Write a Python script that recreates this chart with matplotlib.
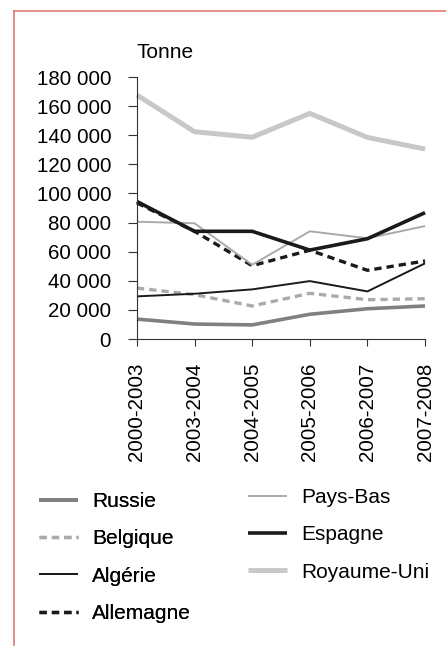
import numpy as np
import matplotlib.pyplot as plt
from matplotlib.lines import Line2D
from matplotlib.ticker import FuncFormatter

plt.rcParams['font.family'] = ['Liberation Sans', 'DejaVu Sans']

# Periods and tonnages
periods = ["2000-2003", "2003-2004", "2004-2005", "2005-2006", "2006-2007", "2007-2008"]
russie = [13700, 10300, 9700, 17000, 20800, 22700]
belgique = [35000, 30500, 22700, 31400, 27000, 27700]
algerie = [29300, 31100, 34100, 39800, 32700, 52000]
allemagne = [93500, 74000, 50400, 61000, 47200, 53600]
pays_bas = [80600, 79500, 51000, 74000, 69200, 77600]
espagne = [94500, 74000, 74000, 61100, 68900, 86800]
royaume_uni = [167600, 142400, 138600, 155000, 138500, 130500]
yticks = [0, 20000, 40000, 60000, 80000, 100000, 120000, 140000, 160000, 180000]

fig = plt.figure(figsize=(4.46, 6.46), dpi=100)
ax = fig.add_axes([0.307, 0.4752, 0.646, 0.4056])

x = np.arange(len(periods))
# (label, data, color, width, style)
series = [
    ("Russie", russie, "#808080", 2.6, "-"),
    ("Belgique", belgique, "#aaaaaa", 2.4, (0, (2.2, 1.5))),
    ("Algérie", algerie, "#1a1a1a", 1.4, "-"),
    ("Allemagne", allemagne, "#1a1a1a", 2.4, (0, (2.2, 1.5))),
    ("Pays-Bas", pays_bas, "#aaaaaa", 1.4, "-"),
    ("Espagne", espagne, "#1a1a1a", 2.6, "-"),
    ("Royaume-Uni", royaume_uni, "#c8c8c8", 3.6, "-"),
]
handles = []
for label, vals, col, lw, ls in series:
    h, = ax.plot(x, vals, color=col, lw=lw, ls=ls, label=label,
                 solid_capstyle='butt', dash_capstyle='butt', clip_on=False)
    handles.append(h)

ax.set_xlim(0, len(periods) - 1)
ax.set_ylim(0, 180000)
ax.set_yticks(yticks)
ax.yaxis.set_major_formatter(FuncFormatter(lambda v, p: f"{int(v):,}".replace(",", " ")))
ax.set_xticks(x)
ax.set_xticklabels(periods, rotation=90)
ax.tick_params(axis='both', labelsize=14.8, direction='out', color='#333333', width=0.8)
ax.tick_params(axis='y', length=6.5, pad=12)
ax.tick_params(axis='x', length=5, pad=12)
for s in ['top', 'right']:
    ax.spines[s].set_visible(False)
for s in ['left', 'bottom']:
    ax.spines[s].set_color('#333333')
    ax.spines[s].set_linewidth(0.8)

fig.text(0.305, 0.919, "Tonne", fontsize=15, ha='left', va='center')

leg_kw = dict(loc='upper left', frameon=False, fontsize=15, borderpad=0,
              borderaxespad=0, handlelength=1.85, handletextpad=0.7,
              labelspacing=0.88)
leg1 = fig.legend(handles=handles[:4], bbox_to_anchor=(39 / 446, 1 - 492 / 646), **leg_kw)
fig.legend(handles=handles[4:], bbox_to_anchor=(248 / 446, 1 - 488 / 646), **leg_kw)
fig.add_artist(leg1)

# pink frame (left and top edges)
frame_col = "#e07a78"
fig.add_artist(Line2D([14 / 446, 14 / 446], [0, 1 - 11 / 646], color=frame_col, lw=1.2,
                      transform=fig.transFigure))
fig.add_artist(Line2D([14 / 446, 1], [1 - 11 / 646, 1 - 11 / 646], color=frame_col, lw=1.2,
                      transform=fig.transFigure))

fig.savefig("out.png", dpi=100)
